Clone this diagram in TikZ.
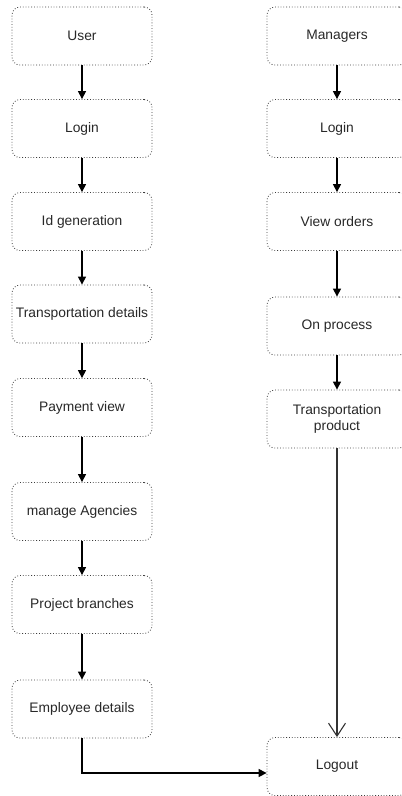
\documentclass[tikz,border=0pt]{standalone}
\usepackage{fontspec}
\setmainfont{Liberation Sans}
\usetikzlibrary{arrows.meta}
\definecolor{txt}{RGB}{40,40,40}
\definecolor{bord}{RGB}{60,60,60}
\tikzset{
  box/.style={draw=bord, dotted, line width=0.8pt, rounded corners=8pt, fill=white,
    minimum width=140pt, minimum height=58pt, inner sep=0pt, align=center,
    font=\fontsize{13.8pt}{16.5pt}\selectfont, text=txt},
  flow/.style={draw=black, line width=1.2pt, -{Triangle[width=8pt,length=8pt]}},
  openflow/.style={draw=black!80, line width=1.1pt, -{Straight Barb[width=17pt,length=13pt,line width=1.1pt]}}
}
\begin{document}
\begin{tikzpicture}[x=1pt,y=-1pt]
\useasboundingbox (0,0) rectangle (402,796);
\fill[white] (0,0) rectangle (402,796);
\clip (0,0) rectangle (402,796);
% left column
\node[box] (user) at (82,36) {User};
\node[box] (login1) at (82,128.5) {Login};
\node[box] (idgen) at (82,221.5) {Id generation};
\node[box] (trans) at (82,314) {Transportation details};
\node[box] (pay) at (82,407.5) {Payment view};
\node[box] (manage) at (82,511.5) {manage Agencies};
\node[box] (proj) at (82,604.5) {Project branches};
\node[box] (emp) at (82,709) {Employee details};
% right column
\node[box] (mgr) at (337,36) {Managers};
\node[box] (login2) at (337,128.5) {Login};
\node[box] (view) at (337,221.5) {View orders};
\node[box] (proc) at (337,326) {On process};
\node[box] (tprod) at (337,419) {Transportation\\product};
\node[box] (logout) at (337,766.5) {Logout};
% connectors
\draw[flow] (user) -- (login1);
\draw[flow] (login1) -- (idgen);
\draw[flow] (idgen) -- (trans);
\draw[flow] (trans) -- (pay);
\draw[flow] (pay) -- (manage);
\draw[flow] (manage) -- (proj);
\draw[flow] (proj) -- (emp);
\draw[flow] (mgr) -- (login2);
\draw[flow] (login2) -- (view);
\draw[flow] (view) -- (proc);
\draw[flow] (proc) -- (tprod);
\draw[openflow] (tprod) -- (logout);
\coordinate (lin) at ([yshift=-6.5pt]logout.west);
\draw[flow] (emp.south) |- (lin);
\end{tikzpicture}
\end{document}
